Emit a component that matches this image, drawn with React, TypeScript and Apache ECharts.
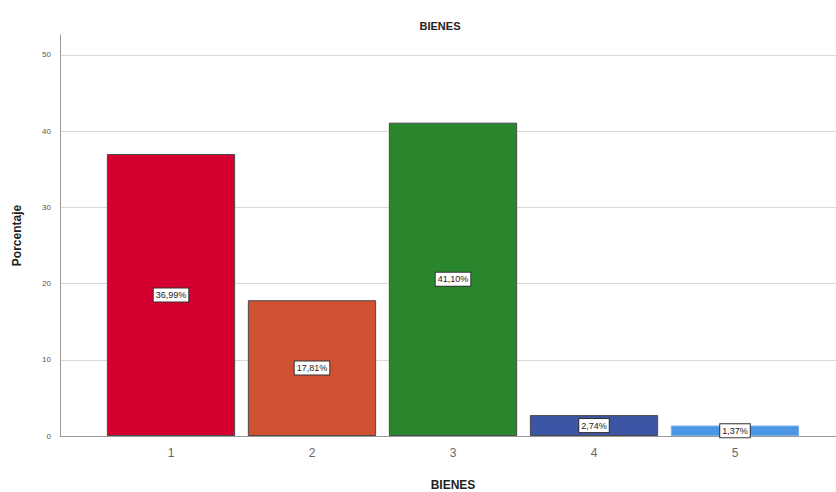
import React, { useEffect, useRef } from "react";
import * as echarts from "echarts";

const categories = ["1", "2", "3", "4", "5"];
const values = [36.99, 17.81, 41.1, 2.74, 1.37];
const barColors = ["#d5002f", "#d05232", "#2a862d", "#3d55a5", "#4c96e6"];
const yTicks = [0, 10, 20, 30, 40, 50];

export default function App() {
  const ref = useRef<HTMLDivElement>(null);
  useEffect(() => {
    document.body.style.margin = "0";
    if (!ref.current) return;
    const chart = echarts.init(ref.current, null, { renderer: "svg" });
    const yMax = 52.6;
    const font = "Liberation Sans, Arial, sans-serif";
    chart.setOption({
      animation: false,
      backgroundColor: "#ffffff",
      title: {
        text: "BIENES",
        left: 435,
        top: 15,
        textAlign: "center",
        textStyle: { fontSize: 11, fontWeight: "bold", color: "#222", fontFamily: font },
      },
      grid: [
        { left: 60, right: 0, top: 35, bottom: 56, outerBoundsMode: "none", containLabel: false },
        { left: 100.5, right: 30.5, top: 35, bottom: 56, outerBoundsMode: "none", containLabel: false },
      ],
      xAxis: [
        {
          type: "category",
          gridIndex: 0,
          data: [""],
          axisLine: { show: true, lineStyle: { color: "#9a9a9a", width: 1 } },
          axisTick: { show: false },
          axisLabel: { show: false },
          splitLine: { show: false },
        },
        {
          type: "category",
          gridIndex: 1,
          data: categories,
          name: "BIENES",
          nameLocation: "middle",
          nameGap: 43,
          nameTextStyle: { fontSize: 12, fontWeight: "bold", color: "#222", fontFamily: font },
          axisLine: { show: false },
          axisTick: { show: false },
          axisLabel: { fontSize: 12, color: "#666", margin: 11, fontFamily: font },
        },
      ],
      yAxis: [
        {
          type: "value",
          gridIndex: 0,
          min: 0,
          max: yMax,
          interval: 10,
          name: "Porcentaje",
          nameLocation: "middle",
          nameGap: 37,
          nameTextStyle: { fontSize: 12, fontWeight: "bold", color: "#222", fontFamily: font },
          axisLine: { show: true, lineStyle: { color: "#9a9a9a", width: 1 } },
          axisTick: { show: false },
          axisLabel: {
            fontSize: 8,
            color: "#555",
            margin: 9,
            showMaxLabel: false,
            fontFamily: font,
            formatter: (v: number) => (yTicks.indexOf(v) >= 0 ? String(v) : ""),
          },
          splitLine: { show: true, showMaxLine: false, lineStyle: { color: "#d9d9d9", width: 1 } },
        },
        {
          type: "value",
          gridIndex: 1,
          min: 0,
          max: yMax,
          show: false,
          splitLine: { show: false },
        },
      ],
      series: [
        {
          type: "bar",
          xAxisIndex: 1,
          yAxisIndex: 1,
          barCategoryGap: "9%",
          data: values.map((v, i) => ({
            value: v,
            itemStyle: { color: barColors[i], borderColor: i === 4 ? "#7aaee8" : "#4a4a4a", borderWidth: 1 },
          })),
          label: {
            show: true,
            position: "inside",
            formatter: (p: any) => p.value.toFixed(2).replace(".", ",") + "%",
            backgroundColor: "#ffffff",
            borderColor: "#333",
            borderWidth: 1,
            padding: [2, 2, 2, 2],
            fontSize: 9,
            color: "#222",
            fontFamily: font,
          },
        },
      ],
    });
    return () => chart.dispose();
  }, []);
  return <div ref={ref} style={{ width: 836, height: 492 }} />;
}
